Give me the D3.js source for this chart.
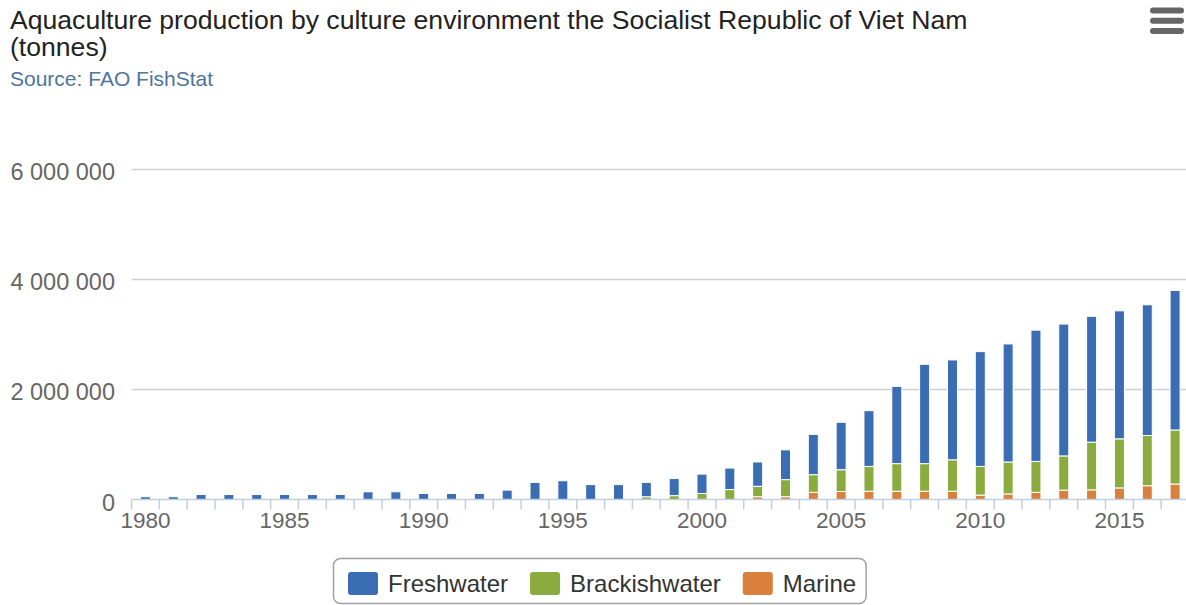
<!DOCTYPE html>
<html>
<head>
<meta charset="utf-8">
<script src="https://cdn.jsdelivr.net/npm/d3@7"></script>
<style>
  html, body { margin: 0; padding: 0; background: #fff; }
  svg { display: block; font-family: "Liberation Sans", Arial, Helvetica, sans-serif; }
</style>
</head>
<body>
<svg id="chart" width="1186" height="605"></svg>
<script>
// Aquaculture production, Viet Nam, by culture environment (tonnes)
const years = [1980, 1981, 1982, 1983, 1984, 1985, 1986, 1987, 1988, 1989,
               1990, 1991, 1992, 1993, 1994, 1995, 1996, 1997, 1998, 1999,
               2000, 2001, 2002, 2003, 2004, 2005, 2006, 2007, 2008, 2009,
               2010, 2011, 2012, 2013, 2014, 2015, 2016, 2017];

const freshwater = [50000, 50000, 90000, 90000, 90000, 90000, 90000, 90000, 140000, 140000,
                    110000, 110000, 110000, 170000, 310000, 340000, 270000, 270000, 260000, 310000,
                    350000, 390000, 440000, 540000, 730000, 860000, 1010000, 1400000, 1800000, 1810000,
                    2080000, 2140000, 2380000, 2390000, 2280000, 2320000, 2370000, 2530000];

const brackishwater = [0, 0, 0, 0, 0, 0, 0, 0, 0, 0,
                       0, 0, 0, 0, 0, 0, 0, 0, 50000, 70000,
                       110000, 180000, 190000, 310000, 320000, 395000, 450000, 500000, 500000, 570000,
                       520000, 580000, 560000, 620000, 865000, 890000, 910000, 980000];

const marine = [0, 0, 0, 0, 0, 0, 0, 0, 0, 0,
                0, 0, 0, 0, 0, 0, 0, 0, 0, 0,
                0, 0, 50000, 50000, 130000, 145000, 150000, 150000, 150000, 150000,
                80000, 100000, 130000, 170000, 175000, 210000, 250000, 280000];

const seriesNames = ["Freshwater", "Brackishwater", "Marine"];
const yTicks = [0, 2000000, 4000000, 6000000];
const xLabelYears = [1980, 1985, 1990, 1995, 2000, 2005, 2010, 2015];

const titleLines = ["Aquaculture production by culture environment the Socialist Republic of Viet Nam", "(tonnes)"];
const subtitle = "Source: FAO FishStat";

const colors = { Freshwater: "#3b6db3", Brackishwater: "#8aab3d", Marine: "#d9803c" };

const svg = d3.select("#chart");
const W = 1186;
const FONT = "'Liberation Sans', Arial, Helvetica, sans-serif";

const plot = { left: 131.5, right: 1189, top: 168.5, bottom: 499.5 };

// rows for stacking
const rows = years.map((yr, i) => ({
  year: yr,
  Freshwater: freshwater[i],
  Brackishwater: brackishwater[i],
  Marine: marine[i]
}));

const x = d3.scaleBand()
  .domain(years)
  .range([plot.left, plot.right])
  .paddingInner(0.64)
  .paddingOuter(0.32);

const y = d3.scaleLinear()
  .domain([0, 6000000])
  .range([plot.bottom, plot.top]);

const fmt = d3.formatLocale({ decimal: ".", thousands: " ", grouping: [3], currency: ["", ""] }).format(",");

// Title & subtitle
const title = svg.append("text")
  .attr("x", 10)
  .attr("fill", "#222")
  .style("font-size", "26.6px");
titleLines.forEach((line, i) => {
  title.append("tspan").attr("x", 10).attr("y", 29 + i * 27).text(line);
});
svg.append("text")
  .attr("x", 10).attr("y", 86)
  .attr("fill", "#4d759e")
  .style("font-size", "21px")
  .text(subtitle);

// Context menu button
const menu = svg.append("g").attr("stroke", "#666").attr("stroke-width", 6).attr("stroke-linecap", "round");
[10.5, 20.7, 31].forEach(yy => {
  menu.append("line").attr("x1", 1153).attr("x2", 1181).attr("y1", yy).attr("y2", yy);
});

// Gridlines
svg.append("g")
  .selectAll("line")
  .data(yTicks.filter(v => v > 0))
  .join("line")
  .attr("x1", plot.left).attr("x2", W)
  .attr("y1", d => Math.round(y(d)) + 0.5)
  .attr("y2", d => Math.round(y(d)) + 0.5)
  .attr("stroke", "#d0d0d0")
  .attr("stroke-width", 1.5);

// Y axis labels
const yAxis = svg.append("g")
  .attr("transform", `translate(115,0)`)
  .call(d3.axisLeft(y).tickValues(yTicks).tickSize(0).tickPadding(0).tickFormat(fmt));
yAxis.select(".domain").remove();
yAxis.selectAll("text")
  .attr("fill", "#666")
  .attr("dy", "0.45em")
  .style("font-size", "23.5px")
  .style("font-family", FONT);

// Stacked bars
const stack = d3.stack().keys(["Marine", "Brackishwater", "Freshwater"]);
const layers = stack(rows);

svg.append("g")
  .selectAll("g")
  .data(layers)
  .join("g")
  .attr("fill", d => colors[d.key])
  .selectAll("rect")
  .data(d => d.filter(s => s[1] - s[0] > 0))
  .join("rect")
  .attr("x", d => x(d.data.year))
  .attr("width", x.bandwidth())
  .attr("y", d => y(d[1]))
  .attr("height", d => y(d[0]) - y(d[1]))
  .attr("stroke", "#fff")
  .attr("stroke-width", 1);

// X axis line and category boundary ticks
const step = x.step();
const boundaries = years.map(yr => x(yr) - (step - x.bandwidth()) / 2);
svg.append("line")
  .attr("x1", plot.left).attr("x2", W)
  .attr("y1", plot.bottom).attr("y2", plot.bottom)
  .attr("stroke", "#c0d0e0").attr("stroke-width", 1.5);
svg.append("g")
  .selectAll("line")
  .data(boundaries)
  .join("line")
  .attr("x1", d => d).attr("x2", d => d)
  .attr("y1", plot.bottom).attr("y2", plot.bottom + 10)
  .attr("stroke", "#c0d0e0").attr("stroke-width", 1.5);

const xAxis = svg.append("g")
  .attr("transform", `translate(0,${plot.bottom})`)
  .call(d3.axisBottom(x).tickValues(xLabelYears).tickSize(0).tickPadding(0));
xAxis.select(".domain").remove();
xAxis.selectAll("text")
  .attr("fill", "#666")
  .attr("y", 28)
  .attr("dy", 0)
  .style("font-size", "22.5px")
  .style("font-family", FONT);

// Legend
const legend = svg.append("g");
const box = legend.append("rect")
  .attr("rx", 7).attr("ry", 7)
  .attr("fill", "#fff")
  .attr("stroke", "#a0a0a0")
  .attr("stroke-width", 1.5);
let lx = 348;
const symW = 30, symH = 23, symY = 572, symGap = 10, itemGap = 22;
seriesNames.forEach(name => {
  legend.append("rect")
    .attr("x", lx).attr("y", symY)
    .attr("width", symW).attr("height", symH)
    .attr("rx", 3).attr("fill", colors[name]);
  const t = legend.append("text")
    .attr("x", lx + symW + symGap).attr("y", 592)
    .attr("fill", "#333")
    .style("font-size", "24px")
    .text(name);
  lx = lx + symW + symGap + t.node().getComputedTextLength() + itemGap;
});
box.attr("x", 333.5).attr("y", 558.5).attr("width", lx - itemGap + 10 - 333.5).attr("height", 45);
</script>
</body>
</html>
